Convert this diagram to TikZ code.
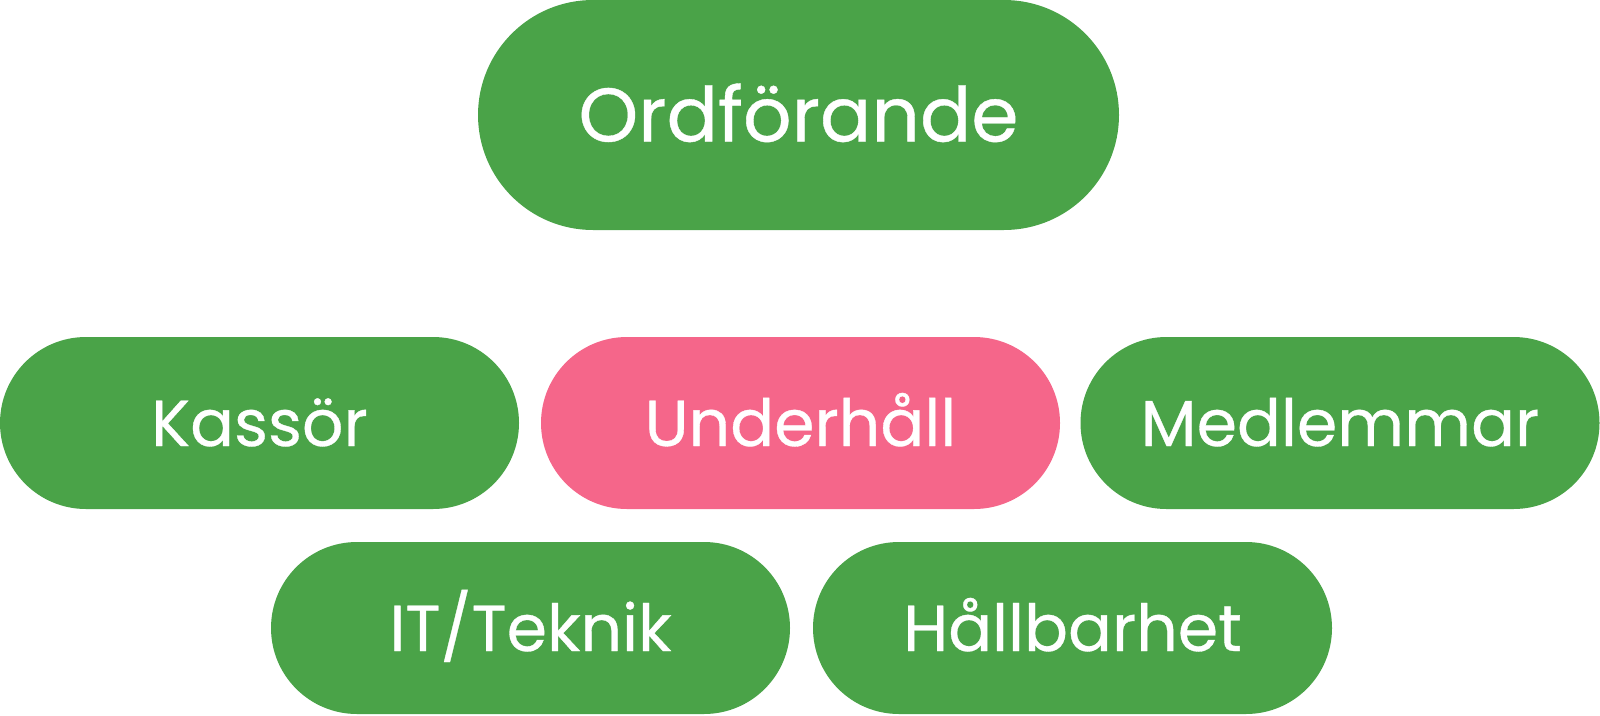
\documentclass[tikz,border=0pt]{standalone}
\usepackage{fontspec}
\setmainfont{Poppins}
\newfontfamily\pillfont{Poppins}[FakeBold=0.5]
\definecolor{boxgreen}{RGB}{74,163,72}
\definecolor{boxpink}{RGB}{245,102,138}
\begin{document}
\begin{tikzpicture}[x=1pt,y=1pt,
  pill/.style={fill=boxgreen, draw=none, rectangle, rounded corners=86pt,
    minimum width=519pt, minimum height=172pt, inner sep=0pt,
    text=white, font=\pillfont\fontsize{65}{65}\selectfont, text height=46pt, text depth=0pt},
  bigpill/.style={pill, rounded corners=115pt, minimum width=641pt, minimum height=230pt,
    font=\pillfont\fontsize{76}{76}\selectfont, text height=53pt},
  pinkpill/.style={pill, fill=boxpink}]
\useasboundingbox (0,0) rectangle (1600,-715);
\node[bigpill] (ord) at (798.5,-115) {Ordförande};
\node[pill] (kas) at (259.5,-423) {Kassör};
\node[pinkpill] (und) at (800.5,-423) {Underhåll};
\node[pill] (med) at (1340,-423) {Medlemmar};
\node[pill] (it) at (530.5,-628) {IT/Teknik};
\node[pill] (hall) at (1072.5,-628) {Hållbarhet};
\end{tikzpicture}
\end{document}
